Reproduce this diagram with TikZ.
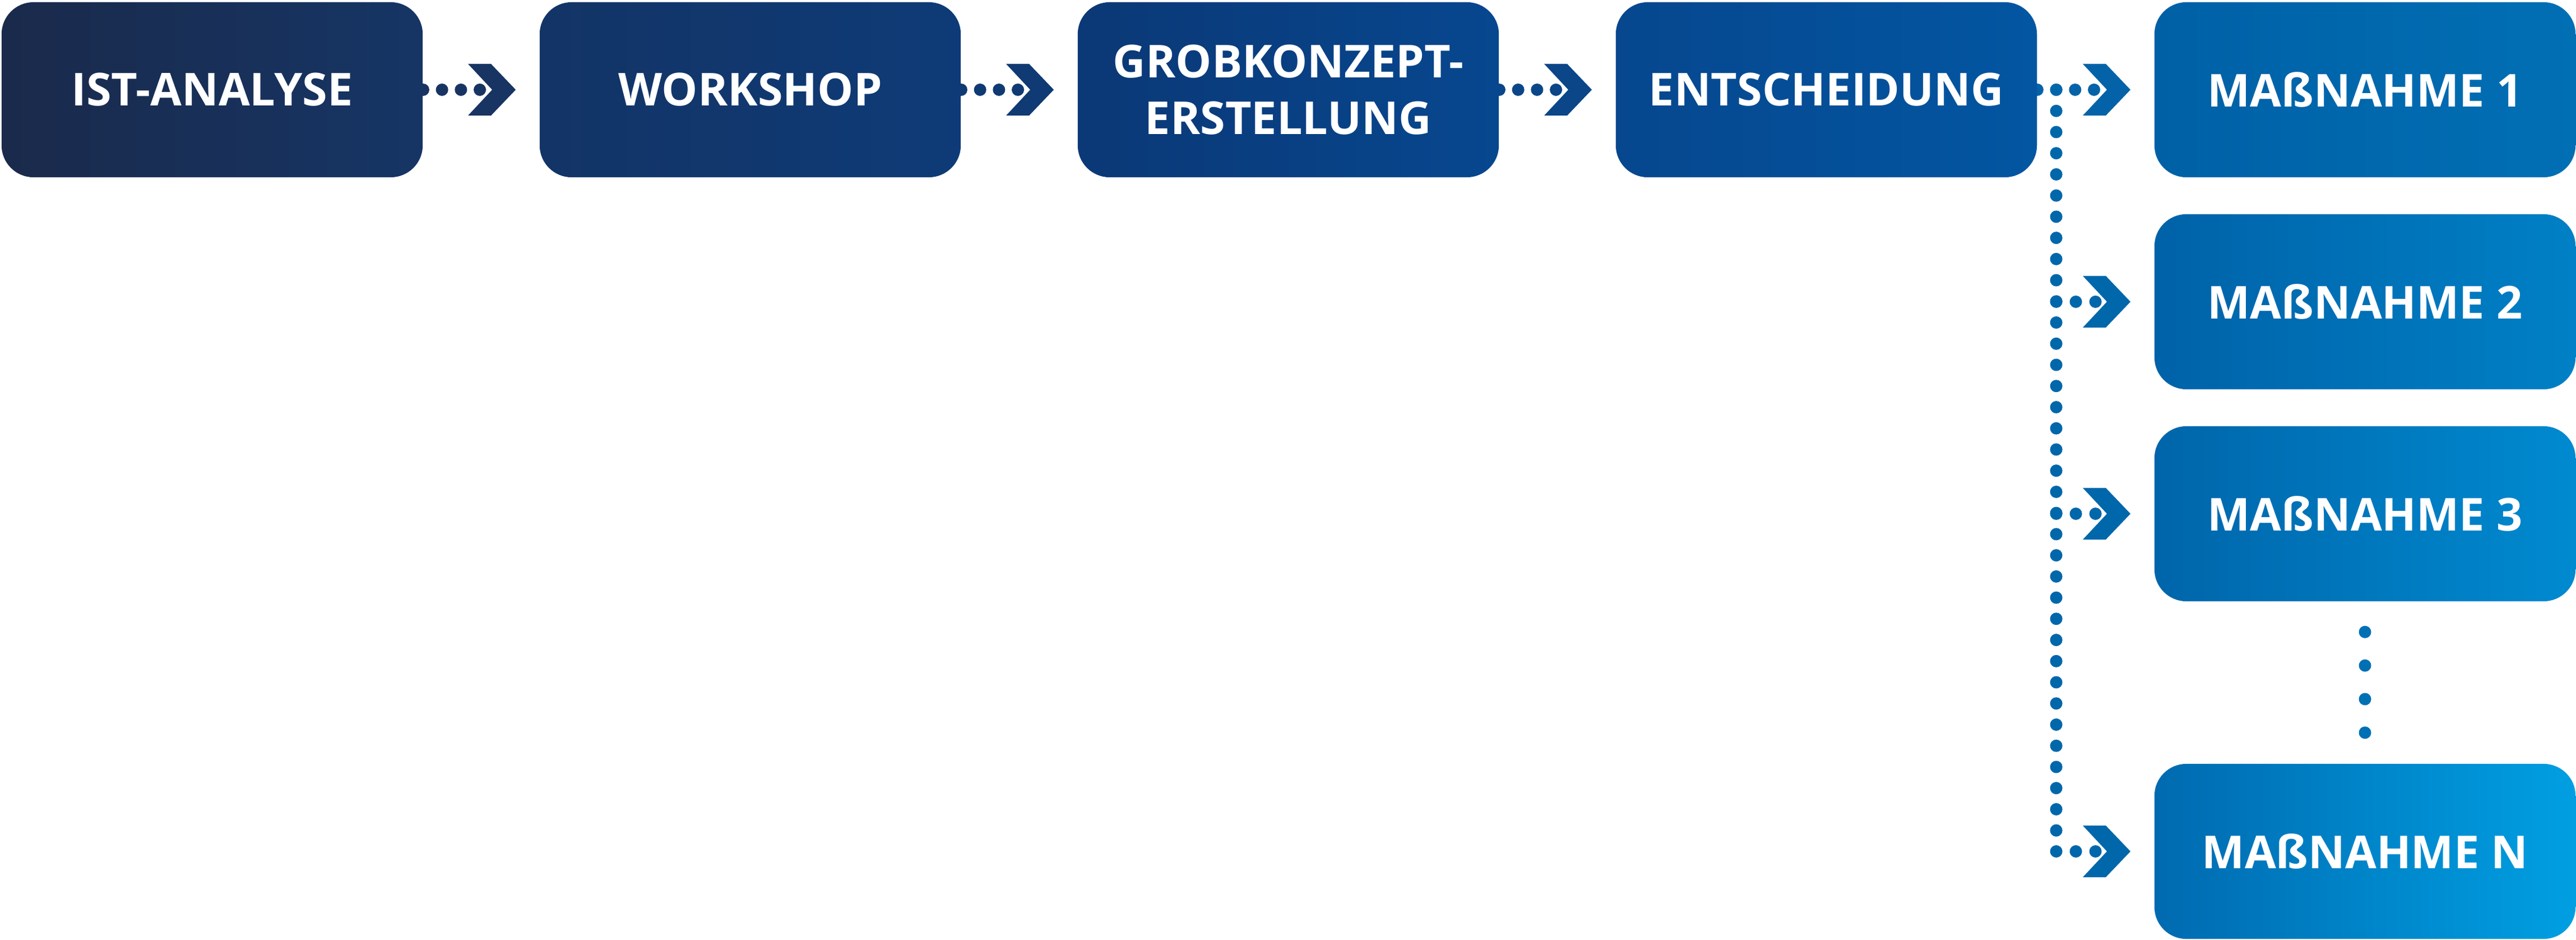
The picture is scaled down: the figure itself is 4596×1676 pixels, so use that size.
\documentclass[tikz,border=0pt]{standalone}
\usepackage{fontspec}
\setmainfont{Open Sans}
\usetikzlibrary{calc}
\usetikzlibrary{backgrounds}

\definecolor{istL}{HTML}{1A2A4B}
\definecolor{istR}{HTML}{163565}
\definecolor{workL}{HTML}{133466}
\definecolor{workR}{HTML}{0E3B77}
\definecolor{grobL}{HTML}{0B3876}
\definecolor{grobR}{HTML}{07478F}
\definecolor{entL}{HTML}{06478E}
\definecolor{entR}{HTML}{0356A2}
\definecolor{mOneL}{HTML}{0060A6}
\definecolor{mOneR}{HTML}{016FB4}
\definecolor{mTwoL}{HTML}{0062A8}
\definecolor{mTwoR}{HTML}{0080C6}
\definecolor{mThreeL}{HTML}{0065AA}
\definecolor{mThreeR}{HTML}{008AD0}
\definecolor{mNL}{HTML}{006AB0}
\definecolor{mNR}{HTML}{009FE2}
\definecolor{chevA}{HTML}{183462}
\definecolor{chevB}{HTML}{0F3A73}
\definecolor{chevC}{HTML}{0A4688}
\definecolor{chevD}{HTML}{0463A8}
\definecolor{chevE}{HTML}{0067AB}
\definecolor{dotE}{HTML}{0070B5}

\tikzset{chevron/.pic = {
	\fill (0,0) -- (-44,-46) -- (-85,-46) -- (-42,0) -- (-85,46) -- (-44,46) -- cycle;
	\coordinate (-notch) at (-42,0);
}}

\begin{document}
\begin{tikzpicture}[x = 0.01cm, y = -0.01cm]
	\tikzstyle{BoxStyle} = [shape = rectangle, rounded corners = 0.57cm, minimum width = 7.51cm, minimum height = 3.12cm, inner sep = 0pt, text = white, align = center, font = \fontsize{23}{28.5}\selectfont\bfseries]
	\tikzstyle{DotStyle} = [line width = 0.22cm, line cap = round, dash pattern = on 0cm off 0.337cm]
	\useasboundingbox (0,0) rectangle (4596,1676);
	% steps
	\node[BoxStyle, left color = istL, right color = istR] (ist) at (378.5,160) {IST-ANALYSE};
	\node[BoxStyle, left color = workL, right color = workR] (work) at (1338.5,160) {WORKSHOP};
	\node[BoxStyle, left color = grobL, right color = grobR] (grob) at (2298.5,160) {GROBKONZEPT-\\ERSTELLUNG};
	\node[BoxStyle, left color = entL, right color = entR] (ent) at (3258.5,160) {ENTSCHEIDUNG};
	\node[BoxStyle, left color = mOneL, right color = mOneR] (mOne) at (4219.5,160) {MAßNAHME 1};
	\node[BoxStyle, left color = mTwoL, right color = mTwoR] (mTwo) at (4219.5,538) {MAßNAHME 2};
	\node[BoxStyle, left color = mThreeL, right color = mThreeR] (mThree) at (4219.5,916) {MAßNAHME 3};
	\node[BoxStyle, left color = mNL, right color = mNR] (mN) at (4219.5,1518) {MAßNAHME N};
	% chevrons
	\pic[color = chevA] (c1) at ($(work.west)+(-42,0)$) {chevron};
	\pic[color = chevB] (c2) at ($(grob.west)+(-42,0)$) {chevron};
	\pic[color = chevC] (c3) at ($(ent.west)+(-42,0)$) {chevron};
	\pic[color = chevD] (c4) at ($(mOne.west)+(-42,0)$) {chevron};
	\pic[color = chevE] (c5) at ($(mTwo.west)+(-42,0)$) {chevron};
	\pic[color = chevE] (c6) at ($(mThree.west)+(-42,0)$) {chevron};
	\pic[color = chevE] (c7) at ($(mN.west)+(-42,0)$) {chevron};
	\coordinate (split) at ($(ent.east)+(33.7,0)$);
	% dotted connectors
	\begin{scope}[on background layer]
		\draw[DotStyle, chevA] (ist.east) -- (c1-notch);
		\draw[DotStyle, chevB] (work.east) -- (c2-notch);
		\draw[DotStyle, chevC] (grob.east) -- (c3-notch);
		\draw[DotStyle, chevD] (ent.east) -- (c4-notch);
		\draw[DotStyle, chevE, dash pattern = on 0cm off 0.3771cm] (split) -- (split |- mN.west);
		\draw[DotStyle, chevE, dash pattern = on 0cm off 0.35cm] (split |- mTwo.west) -- (c5-notch);
		\draw[DotStyle, chevE, dash pattern = on 0cm off 0.35cm] (split |- mThree.west) -- (c6-notch);
		\draw[DotStyle, chevE, dash pattern = on 0cm off 0.35cm] (split |- mN.west) -- (c7-notch);
	\end{scope}
	\draw[DotStyle, dotE, dash pattern = on 0cm off 0.598cm, shorten <= 0.54cm, shorten >= 0.52cm] (mThree.south) -- (mN.north);
\end{tikzpicture}
\end{document}
